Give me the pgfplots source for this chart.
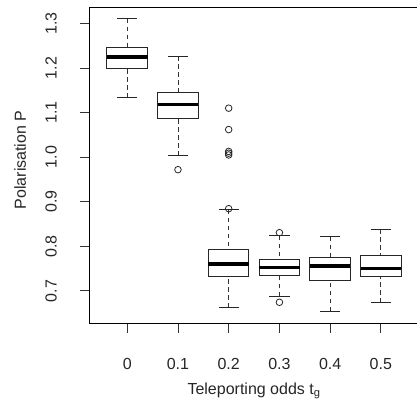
\documentclass[border=0pt]{standalone}
\usepackage{fontspec}
\setmainfont{Liberation Sans}
\usepackage{pgfplots}
\pgfplotsset{compat=1.18}
\usepgfplotslibrary{statistics}

\pgfplotsset{
  rbox/.style={
    black!85, mark=o, mark size=3.3pt, mark options={solid, line width=0.8pt},
    boxplot/draw direction=y,
    boxplot/box extend=0.8,
    boxplot/whisker extend=0.4,
    boxplot/every box/.style={draw=black!85, line width=1pt},
    boxplot/every median/.style={draw=black, line width=3.4pt},
    boxplot/draw/lower whisker/.code={%
      \draw[black!80, line width=0.9pt, dash pattern=on 4.5pt off 3.5pt]
        (boxplot box cs:\pgfplotsboxplotvalue{lower whisker},0.5)
        -- (boxplot box cs:\pgfplotsboxplotvalue{lower quartile},0.5);
      \draw[black!85, line width=1pt]
        (boxplot whisker cs:\pgfplotsboxplotvalue{lower whisker},0)
        -- (boxplot whisker cs:\pgfplotsboxplotvalue{lower whisker},1);
    },
    boxplot/draw/upper whisker/.code={%
      \draw[black!80, line width=0.9pt, dash pattern=on 4.5pt off 3.5pt]
        (boxplot box cs:\pgfplotsboxplotvalue{upper whisker},0.5)
        -- (boxplot box cs:\pgfplotsboxplotvalue{upper quartile},0.5);
      \draw[black!85, line width=1pt]
        (boxplot whisker cs:\pgfplotsboxplotvalue{upper whisker},0)
        -- (boxplot whisker cs:\pgfplotsboxplotvalue{upper whisker},1);
    },
  }
}

\begin{document}
\begin{tikzpicture}[font=\fontsize{16}{19}\selectfont]
\begin{axis}[
  at={(0,0)}, anchor=south west,
  scale only axis, width=328.7pt, height=316pt,
  xmin=0.26, xmax=6.74, ymin=0.628, ymax=1.337,
  xtick={1,2,3,4,5,6}, xticklabels={0,0.1,0.2,0.3,0.4,0.5},
  ytick={0.7,0.8,0.9,1.0,1.1,1.2,1.3},
  yticklabels={0.7,0.8,0.9,1.0,1.1,1.2,1.3},
  xtick pos=bottom, ytick pos=left, tick align=outside,
  major tick length=10pt,
  tick style={black!80, line width=0.9pt},
  axis line style={black, line width=1pt},
  every tick label/.append style={font=\fontsize{16}{19}\selectfont, text=black!85},
  xticklabel style={anchor=base, yshift=-36pt},
  yticklabel style={xshift=-23pt, rotate=90, anchor=base},
  xlabel={Teleporting odds t\textsubscript{g}},
  ylabel={Polarisation P},
  label style={font=\fontsize{16}{19}\selectfont, text=black!85},
  xlabel style={at={(axis description cs:0.5,-0.2247)}, anchor=base},
  ylabel style={at={(axis description cs:-0.194,0.516)}, anchor=base},
]
\addplot[rbox, boxplot prepared={draw position=1,
  lower whisker=1.1335, lower quartile=1.198, median=1.2247,
  upper quartile=1.246, upper whisker=1.3105}] coordinates {};
\addplot[rbox, boxplot prepared={draw position=2,
  lower whisker=1.0034, lower quartile=1.087, median=1.118,
  upper quartile=1.146, upper whisker=1.227}] coordinates {(2,0.972)};
\addplot[rbox, boxplot prepared={draw position=3,
  lower whisker=0.662, lower quartile=0.7314, median=0.7605,
  upper quartile=0.7926, upper whisker=0.882}]
  coordinates {(3,0.8845) (3,1.005) (3,1.009) (3,1.013) (3,1.062) (3,1.110)};
\addplot[rbox, boxplot prepared={draw position=4,
  lower whisker=0.688, lower quartile=0.7336, median=0.7529,
  upper quartile=0.7709, upper whisker=0.824}]
  coordinates {(4,0.6745) (4,0.8307)};
\addplot[rbox, boxplot prepared={draw position=5,
  lower whisker=0.6543, lower quartile=0.7238, median=0.756,
  upper quartile=0.774, upper whisker=0.8217}] coordinates {};
\addplot[rbox, boxplot prepared={draw position=6,
  lower whisker=0.6738, lower quartile=0.7314, median=0.750,
  upper quartile=0.7785, upper whisker=0.8381}] coordinates {};
\end{axis}
\pgfresetboundingbox
\path[use as bounding box] (-89.7pt,-84pt) rectangle (327.3pt,323pt);
\end{tikzpicture}
\end{document}
